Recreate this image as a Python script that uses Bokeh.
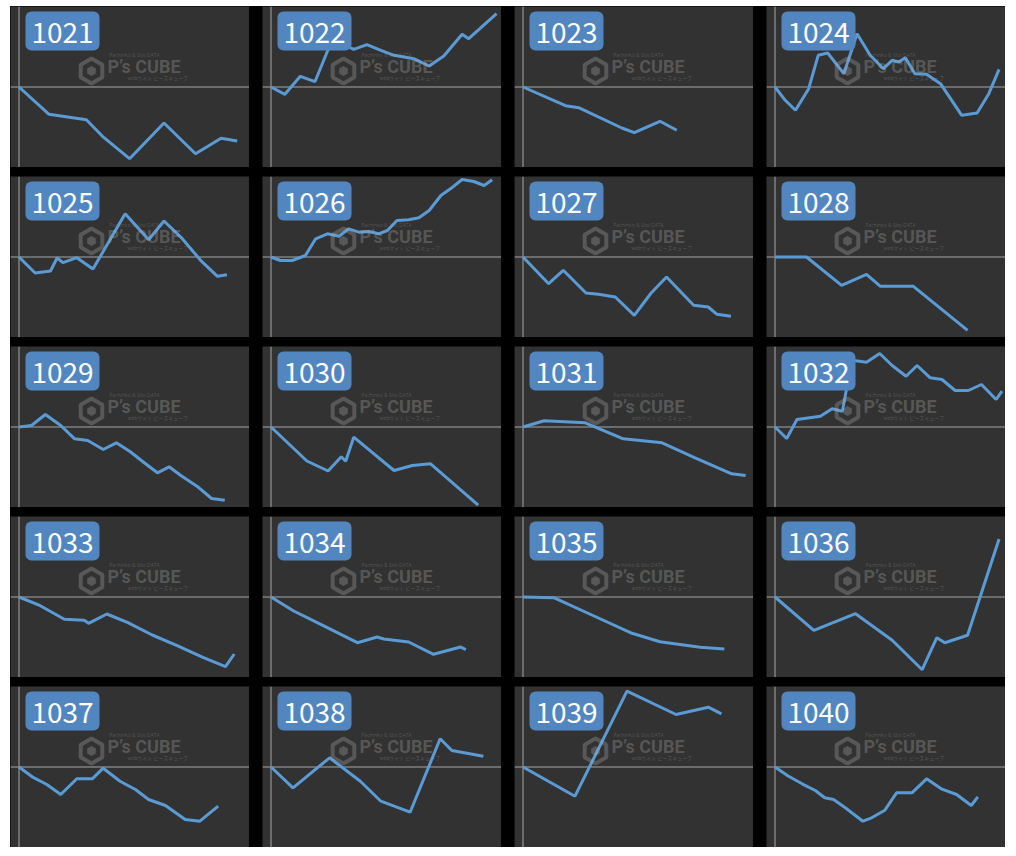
import math
from bokeh.plotting import figure
from bokeh.layouts import column, row
from bokeh.models import Range1d, Span, BoxAnnotation, Label
from bokeh.embed import file_html
from bokeh.resources import INLINE

# ---------------- data (day of month, cumulative coin difference) ----------------
MACHINES = ["1021", "1022", "1023", "1024", "1025", "1026", "1027", "1028", "1029", "1030",
            "1031", "1032", "1033", "1034", "1035", "1036", "1037", "1038", "1039", "1040"]

days_1021 = [0, 4.1, 9.2, 11.4, 15.1, 19.8, 24.1, 27.6, 29.8]
diff_1021 = [0, -2730, -3270, -4930, -7170, -3600, -6670, -5130, -5400]

days_1022 = [0, 1.9, 4.0, 6.0, 8.1, 9.5, 11.3, 13.1, 15.0, 16.8, 19.5, 21.6, 23.6, 26.1, 27.0, 30.8]
diff_1022 = [0, -730, 1070, 530, 4270, 4400, 3770, 4230, 3670, 3170, 2830, 2100, 3100, 5270, 4830, 7330]

days_1023 = [0, 5.8, 7.6, 13.5, 15.2, 18.7, 21.0]
diff_1023 = [0, -1870, -2070, -4100, -4570, -3430, -4330]

days_1024 = [0, 1.4, 2.8, 4.6, 5.9, 7.2, 9.4, 11.2, 13.0, 14.8, 16.0, 16.9, 17.8, 19.1, 20.7, 22.6, 25.5, 27.6, 29.2, 30.6]
diff_1024 = [0, -1330, -2330, -170, 3170, 3400, 1330, 5330, 3170, 1830, 2670, 2500, 2930, 1330, 1270, 330, -2830, -2600, -670, 1770]

days_1025 = [0, 2.2, 4.3, 5.2, 6.0, 7.9, 10.1, 14.5, 17.7, 19.8, 22.3, 24.8, 27.1, 28.4]
diff_1025 = [0, -1600, -1400, -100, -570, -70, -1200, 4330, 1730, 3600, 1830, -330, -1930, -1770]

days_1026 = [0, 1.3, 2.9, 4.7, 6.1, 7.7, 9.3, 10.6, 12.0, 13.4, 14.7, 15.9, 17.2, 18.8, 20.2, 21.6, 23.2, 24.5, 26.1, 27.7, 29.1, 30.2]
diff_1026 = [0, -350, -350, 150, 1820, 2320, 2080, 2820, 2480, 2550, 2320, 2650, 3650, 3720, 3920, 4650, 6150, 6820, 7750, 7550, 7150, 7720]

days_1027 = [0, 3.5, 5.5, 8.6, 10.3, 12.6, 15.2, 17.5, 19.6, 23.3, 25.3, 26.5, 28.4]
diff_1027 = [0, -2670, -1330, -3600, -3730, -4000, -5830, -3600, -2000, -4830, -5000, -5730, -5930]

days_1028 = [0, 4.3, 9.1, 12.5, 14.4, 18.9, 26.3]
diff_1028 = [0, 0, -2830, -1730, -2930, -2930, -7330]

days_1029 = [0, 1.7, 3.6, 5.7, 7.6, 9.4, 11.5, 13.3, 15.2, 17.1, 18.9, 20.5, 22.1, 24.3, 26.3, 28.1]
diff_1029 = [0, 150, 1250, 150, -1180, -1350, -2250, -1580, -2480, -3580, -4580, -3980, -4850, -5920, -7150, -7320]

days_1030 = [0, 4.9, 7.8, 9.6, 10.2, 11.3, 16.8, 19.3, 21.8, 28.3]
diff_1030 = [0, -3400, -4400, -2980, -3420, -1020, -4350, -3850, -3680, -7820]

days_1031 = [0, 2.9, 8.5, 13.7, 19.0, 23.5, 28.5, 30.4]
diff_1031 = [0, 620, 420, -1180, -1580, -3080, -4680, -4850]

days_1032 = [0, 1.6, 3.0, 6.2, 7.8, 9.2, 10.5, 12.5, 14.3, 16.0, 17.9, 19.4, 21.2, 22.8, 24.6, 26.4, 28.2, 30.2, 31.0]
diff_1032 = [0, -1150, 750, 1080, 1820, 1580, 6680, 6480, 7350, 6150, 5080, 6150, 4920, 4750, 3650, 3650, 4250, 2750, 3580]

days_1033 = [0, 2.9, 6.2, 8.9, 9.5, 12.0, 14.8, 18.2, 21.6, 25.2, 28.2, 29.4]
diff_1033 = [0, -870, -2230, -2330, -2630, -1700, -2530, -3800, -4870, -6070, -6970, -5700]

days_1034 = [0, 3.1, 6.8, 11.8, 14.5, 15.4, 18.8, 22.2, 25.9, 26.6]
diff_1034 = [0, -1400, -2730, -4570, -4000, -4200, -4500, -5730, -5000, -5270]

days_1035 = [0, 4.2, 9.4, 14.9, 18.7, 24.2, 27.5]
diff_1035 = [0, -70, -1800, -3630, -4470, -5030, -5200]

days_1036 = [0, 5.3, 11.0, 16.0, 20.1, 22.1, 23.2, 26.3, 30.6]
diff_1036 = [0, -3330, -1670, -4330, -7270, -4070, -4570, -3830, 5800]

days_1037 = [0, 1.8, 3.8, 5.7, 7.9, 10.0, 11.5, 13.8, 15.9, 17.7, 20.0, 22.7, 24.7, 27.2]
diff_1037 = [0, -980, -1750, -2750, -1180, -1180, -120, -1420, -2250, -3250, -3850, -5250, -5420, -3920]

days_1038 = [0, 3.0, 8.0, 12.2, 15.0, 19.0, 23.1, 24.7, 29.0]
diff_1038 = [0, -2080, 920, -1420, -3420, -4520, 2820, 1650, 1080]

days_1039 = [0, 7.1, 14.2, 20.9, 25.3, 27.1]
diff_1039 = [0, -2920, 7580, 5250, 5980, 5320]

days_1040 = [0, 1.8, 3.7, 5.5, 6.8, 8.0, 9.6, 12.0, 13.2, 15.0, 16.6, 18.7, 20.7, 22.7, 24.8, 26.8, 27.7]
diff_1040 = [0, -900, -1680, -2350, -3080, -3250, -4080, -5420, -5080, -4320, -2580, -2580, -1180, -2180, -2750, -3850, -2980]

SERIES_DAYS = [days_1021, days_1022, days_1023, days_1024, days_1025, days_1026, days_1027,
               days_1028, days_1029, days_1030, days_1031, days_1032, days_1033, days_1034,
               days_1035, days_1036, days_1037, days_1038, days_1039, days_1040]
SERIES_DIFF = [diff_1021, diff_1022, diff_1023, diff_1024, diff_1025, diff_1026, diff_1027,
               diff_1028, diff_1029, diff_1030, diff_1031, diff_1032, diff_1033, diff_1034,
               diff_1035, diff_1036, diff_1037, diff_1038, diff_1039, diff_1040]

DAY_MAX = 31
Y_HALF = 8050

# ---------------- styling / layout ----------------
PANEL_W, PANEL_H = 239, 161
X_LEFT_PX, X_RIGHT_PX = 8.5, 235.5
BG = "#323232"
AXIS_COLOR = "#808080"
LINE_COLOR = "#5b9bd5"
TAG_COLOR = "#5286c0"
WM_COLOR = "#a8a8a8"
WM_ALPHA = 0.33

K = (X_RIGHT_PX - X_LEFT_PX) / DAY_MAX


def px_x(px):
    return (px - X_LEFT_PX) / K


def px_y(py):
    return (PANEL_H / 2 - py) * (2 * Y_HALF / PANEL_H)


def make_panel(name, days, diff):
    p = figure(width=PANEL_W, height=PANEL_H,
               x_range=Range1d(px_x(0), px_x(PANEL_W)),
               y_range=Range1d(-Y_HALF, Y_HALF),
               x_axis_location=None, y_axis_location=None,
               tools="", toolbar_location=None, output_backend="svg",
               min_border=0, background_fill_color=BG, border_fill_color=BG,
               outline_line_color=None)
    p.grid.visible = False

    p.add_layout(Span(location=0, dimension="height", line_color=AXIS_COLOR,
                      line_width=1.5, level="underlay"))
    p.add_layout(Span(location=0, dimension="width", line_color=AXIS_COLOR,
                      line_width=1.5, level="underlay"))

    p.line(days, diff, line_color=LINE_COLOR, line_width=3)

    # watermark
    p.scatter(x=[px_x(81)], y=[px_y(64.5)], marker="hex", size=25, angle=math.pi / 6,
              fill_color=None, line_color=WM_COLOR, line_alpha=WM_ALPHA, line_width=4)
    p.scatter(x=[px_x(81)], y=[px_y(64.5)], marker="hex", size=10, angle=math.pi / 6,
              fill_color=WM_COLOR, fill_alpha=WM_ALPHA, line_color=None)
    p.add_layout(Label(x=px_x(97), y=px_y(59.5), text="P\u2019s CUBE",
                       text_font="Roboto", text_font_style="bold",
                       text_font_size="18px", text_color=WM_COLOR, text_alpha=WM_ALPHA,
                       text_baseline="middle", text_align="left"))
    p.add_layout(Label(x=px_x(99), y=px_y(48.5), text="Pachinko & Slot DATA",
                       text_font="Open Sans", text_font_size="5px",
                       text_color=WM_COLOR, text_alpha=WM_ALPHA,
                       text_baseline="middle", text_align="left"))
    p.add_layout(Label(x=px_x(117), y=px_y(70.5), text="webサイト ピーズキューブ",
                       text_font="Noto Sans CJK JP", text_font_size="5px",
                       text_color=WM_COLOR, text_alpha=WM_ALPHA,
                       text_baseline="middle", text_align="left"))

    # machine number tag
    p.add_layout(BoxAnnotation(left=px_x(15), right=px_x(89), top=px_y(5), bottom=px_y(44),
                               fill_color=TAG_COLOR, fill_alpha=1.0, line_color=None,
                               border_radius=6))
    p.add_layout(Label(x=px_x(52), y=px_y(26.2), text=name, text_align="center",
                       text_baseline="middle", text_font="Noto Sans CJK JP",
                       text_font_size="28px", text_color="#ffffff"))
    return p


figs = [make_panel(n, d, v) for n, d, v in zip(MACHINES, SERIES_DAYS, SERIES_DIFF)]
rows = [row(*figs[i * 4:(i + 1) * 4], spacing=13) for i in range(5)]
layout = column(*rows, spacing=9, margin=(6, 0, 0, 10),
                styles={"background-color": "#000000"})

html = file_html(layout, INLINE, title="machine graphs")
html = html.replace("<body>", '<body style="background-color:#000000;">', 1)
open("out.html", "w").write(html)
